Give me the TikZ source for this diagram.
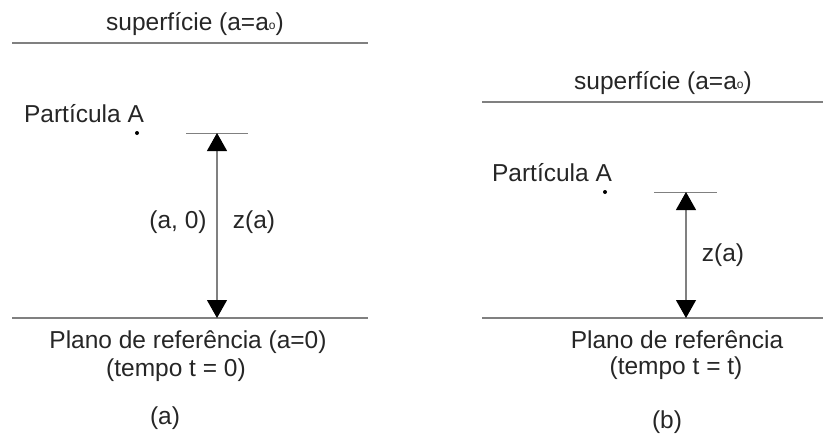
\documentclass[tikz,border=0pt]{standalone}
\usepackage{fontspec}
\setmainfont{Liberation Sans}
\usetikzlibrary{arrows.meta}

\newcommand{\subo}{\raisebox{0.5pt}{\fontsize{12pt}{12pt}\selectfont o}}

\tikzset{
  linha/.style={draw=gray, line width=1.3pt},
  seta/.style={draw=gray, line width=1.1pt, {Triangle[width=20pt,length=18pt,color=black]}-{Triangle[width=20pt,length=18pt,color=black]}},
  rotulo/.style={inner sep=0pt, text=black!85, font=\fontsize{24.5pt}{29pt}\selectfont},
  ponto/.style={circle, fill=black, inner sep=0pt, minimum size=4pt}
}

\begin{document}
\begin{tikzpicture}[x=1pt, y=-1pt]
  \useasboundingbox (0,0) rectangle (823,434);

  % Niveis da figura (a)
  \def\sa{43}
  \def\ra{318}
  \def\za{133}

  % Superficie e plano de referencia (a)
  \coordinate (S1a) at (12,\sa);
  \coordinate (S2a) at (368,\sa);
  \coordinate (P1a) at (12,\ra);
  \coordinate (P2a) at (368,\ra);
  \draw[linha] (S1a) -- (S2a);
  \draw[linha] (P1a) -- (P2a);
  \node[rotulo] (supa) at (195,24) {superfície (a=a\subo)};

  % Particula A (a)
  \node[rotulo] (parta) at (84,114) {Partícula A};
  \node[ponto] (pta) at (137,\za) {};

  % Marca e seta z(a) (a)
  \coordinate (T1a) at (186,\za);
  \coordinate (T2a) at (248,\za);
  \draw[linha, line width=1pt] (T1a) -- (T2a);
  \coordinate (Za) at (217,\za);
  \coordinate (Ba) at (217,\ra);
  \draw[seta] (Za) -- (Ba);
  \node[rotulo] (ea) at (178,222) {(a, 0)};
  \node[rotulo] (za) at (254,222) {z(a)};

  % Legendas (a)
  \node[rotulo] (plana) at (188,342) {Plano de referência (a=0)};
  \node[rotulo] (tempa) at (176,370) {(tempo t = 0)};
  \node[rotulo] (leta) at (165,418) {(a)};

  % Niveis da figura (b)
  \def\sb{102}
  \def\rb{318}
  \def\zb{192}

  % Superficie e plano de referencia (b)
  \coordinate (S1b) at (482,\sb);
  \coordinate (S2b) at (823,\sb);
  \coordinate (P1b) at (482,\rb);
  \coordinate (P2b) at (823,\rb);
  \draw[linha] (S1b) -- (S2b);
  \draw[linha] (P1b) -- (P2b);
  \node[rotulo] (supb) at (663,83) {superfície (a=a\subo)};

  % Particula A (b)
  \node[rotulo] (partb) at (552,173) {Partícula A};
  \node[ponto] (ptb) at (605,\zb) {};

  % Marca e seta z(a) (b)
  \coordinate (T1b) at (654,\zb);
  \coordinate (T2b) at (717,\zb);
  \draw[linha, line width=1pt] (T1b) -- (T2b);
  \coordinate (Zb) at (686,\zb);
  \coordinate (Bb) at (686,\rb);
  \draw[seta] (Zb) -- (Bb);
  \node[rotulo] (zb) at (723,255) {z(a)};

  % Legendas (b)
  \node[rotulo] (planb) at (677,340) {Plano de referência};
  \node[rotulo] (tempb) at (676,368) {(tempo t = t)};
  \node[rotulo] (letb) at (667,422) {(b)};

\end{tikzpicture}
\end{document}
